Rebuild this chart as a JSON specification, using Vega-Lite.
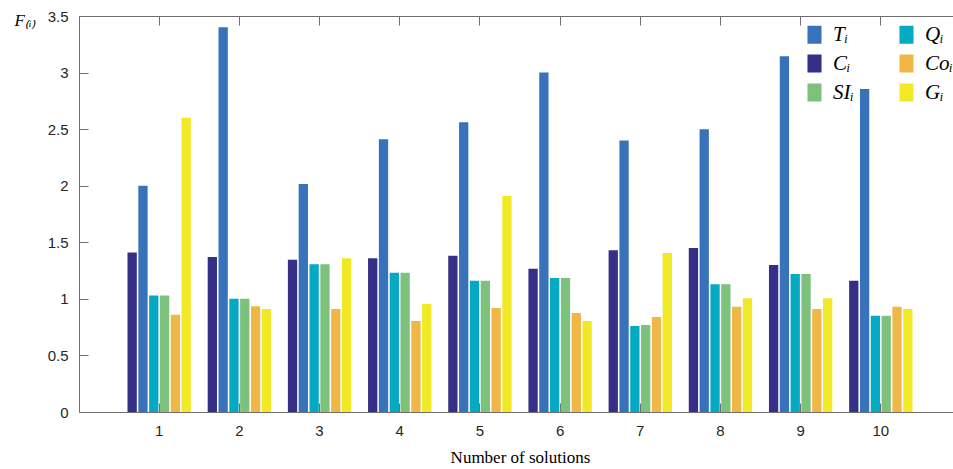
{
  "$schema": "https://vega.github.io/schema/vega-lite/v6.json",
  "width": 874,
  "height": 396,
  "autosize": {"type": "none"},
  "padding": {"left": 79, "top": 16, "right": 0, "bottom": 57},
  "background": "white",
  "config": {"view": {"stroke": null}, "font": "Liberation Sans"},
  "data": {
    "values": [
      {"n": 1, "s": "C", "v": 1.41}, {"n": 1, "s": "T", "v": 2.0}, {"n": 1, "s": "Q", "v": 1.03}, {"n": 1, "s": "SI", "v": 1.03}, {"n": 1, "s": "Co", "v": 0.86}, {"n": 1, "s": "G", "v": 2.6},
      {"n": 2, "s": "C", "v": 1.37}, {"n": 2, "s": "T", "v": 3.4}, {"n": 2, "s": "Q", "v": 1.0}, {"n": 2, "s": "SI", "v": 1.0}, {"n": 2, "s": "Co", "v": 0.935}, {"n": 2, "s": "G", "v": 0.91},
      {"n": 3, "s": "C", "v": 1.345}, {"n": 3, "s": "T", "v": 2.015}, {"n": 3, "s": "Q", "v": 1.305}, {"n": 3, "s": "SI", "v": 1.305}, {"n": 3, "s": "Co", "v": 0.91}, {"n": 3, "s": "G", "v": 1.36},
      {"n": 4, "s": "C", "v": 1.36}, {"n": 4, "s": "T", "v": 2.41}, {"n": 4, "s": "Q", "v": 1.23}, {"n": 4, "s": "SI", "v": 1.23}, {"n": 4, "s": "Co", "v": 0.805}, {"n": 4, "s": "G", "v": 0.955},
      {"n": 5, "s": "C", "v": 1.38}, {"n": 5, "s": "T", "v": 2.56}, {"n": 5, "s": "Q", "v": 1.16}, {"n": 5, "s": "SI", "v": 1.16}, {"n": 5, "s": "Co", "v": 0.92}, {"n": 5, "s": "G", "v": 1.91},
      {"n": 6, "s": "C", "v": 1.265}, {"n": 6, "s": "T", "v": 3.0}, {"n": 6, "s": "Q", "v": 1.185}, {"n": 6, "s": "SI", "v": 1.185}, {"n": 6, "s": "Co", "v": 0.875}, {"n": 6, "s": "G", "v": 0.805},
      {"n": 7, "s": "C", "v": 1.43}, {"n": 7, "s": "T", "v": 2.4}, {"n": 7, "s": "Q", "v": 0.76}, {"n": 7, "s": "SI", "v": 0.77}, {"n": 7, "s": "Co", "v": 0.84}, {"n": 7, "s": "G", "v": 1.405},
      {"n": 8, "s": "C", "v": 1.45}, {"n": 8, "s": "T", "v": 2.5}, {"n": 8, "s": "Q", "v": 1.13}, {"n": 8, "s": "SI", "v": 1.13}, {"n": 8, "s": "Co", "v": 0.93}, {"n": 8, "s": "G", "v": 1.005},
      {"n": 9, "s": "C", "v": 1.3}, {"n": 9, "s": "T", "v": 3.145}, {"n": 9, "s": "Q", "v": 1.22}, {"n": 9, "s": "SI", "v": 1.22}, {"n": 9, "s": "Co", "v": 0.91}, {"n": 9, "s": "G", "v": 1.005},
      {"n": 10, "s": "C", "v": 1.16}, {"n": 10, "s": "T", "v": 2.855}, {"n": 10, "s": "Q", "v": 0.85}, {"n": 10, "s": "SI", "v": 0.85}, {"n": 10, "s": "Co", "v": 0.93}, {"n": 10, "s": "G", "v": 0.91}
    ]
  },
  "layer": [
    {
      "mark": {"type": "bar"},
      "encoding": {
        "x": {
          "field": "n",
          "type": "ordinal",
          "scale": {"range": [0, 882], "paddingInner": 0.21, "paddingOuter": 0.605},
          "axis": {
            "orient": "bottom",
            "title": "Number of solutions",
            "titleFont": "Liberation Serif",
            "titleFontSize": 17,
            "titleFontWeight": "normal",
            "titleColor": "black",
            "titleY": 50,
            "titleBaseline": "alphabetic",
            "labelAngle": 0,
            "labelFontSize": 15,
            "labelColor": "#262626",
            "labelPadding": 20,
            "tickSize": -9,
            "tickColor": "#6e6e6e",
            "domainColor": "#6e6e6e",
            "grid": false
          }
        },
        "xOffset": {"field": "s", "sort": ["C", "T", "Q", "SI", "Co", "G"], "scale": {"paddingInner": 0.14}},
        "y": {
          "field": "v",
          "type": "quantitative",
          "scale": {"domain": [0, 3.5], "nice": false},
          "axis": {
            "title": "F₍ᵢ₎",
            "titleAngle": 0,
            "titleX": -65,
            "titleY": 9,
            "titleAlign": "left",
            "titleBaseline": "alphabetic",
            "titleFont": "Liberation Serif",
            "titleFontStyle": "italic",
            "titleFontSize": 17,
            "titleFontWeight": "normal",
            "titleColor": "black",
            "values": [0, 0.5, 1, 1.5, 2, 2.5, 3, 3.5],
            "format": "~g",
            "tickSize": -9,
            "labelPadding": 20,
            "labelFontSize": 15,
            "labelColor": "#262626",
            "domainColor": "#6e6e6e",
            "tickColor": "#6e6e6e",
            "grid": false
          }
        },
        "color": {
          "field": "s",
          "type": "nominal",
          "scale": {
            "domain": ["T", "C", "SI", "Q", "Co", "G"],
            "range": ["#3872ba", "#352f86", "#7dc17d", "#04a9c2", "#f0b646", "#f2e926"]
          },
          "legend": {
            "orient": "none",
            "legendX": 725,
            "legendY": 8,
            "columns": 2,
            "title": null,
            "padding": 0,
            "symbolType": "M-0.78,-1H0.78V1H-0.78Z",
            "symbolSize": 324,
            "symbolStrokeWidth": 0,
            "symbolOpacity": 1,
            "labelFont": "Liberation Serif",
            "labelFontStyle": "italic",
            "labelFontSize": 21,
            "labelColor": "black",
            "labelOffset": 8,
            "columnPadding": 42,
            "rowPadding": 7,
            "labelExpr": "datum.label + 'ᵢ'"
          }
        }
      }
    },
    {
      "mark": {"type": "rule", "opacity": 0},
      "encoding": {
        "x": {
          "field": "n",
          "type": "ordinal",
          "axis": {
            "orient": "top",
            "title": null,
            "labels": false,
            "tickSize": -9,
            "tickColor": "#6e6e6e",
            "domainColor": "#6e6e6e",
            "grid": false
          }
        }
      }
    }
  ],
  "resolve": {"axis": {"x": "independent"}}
}
